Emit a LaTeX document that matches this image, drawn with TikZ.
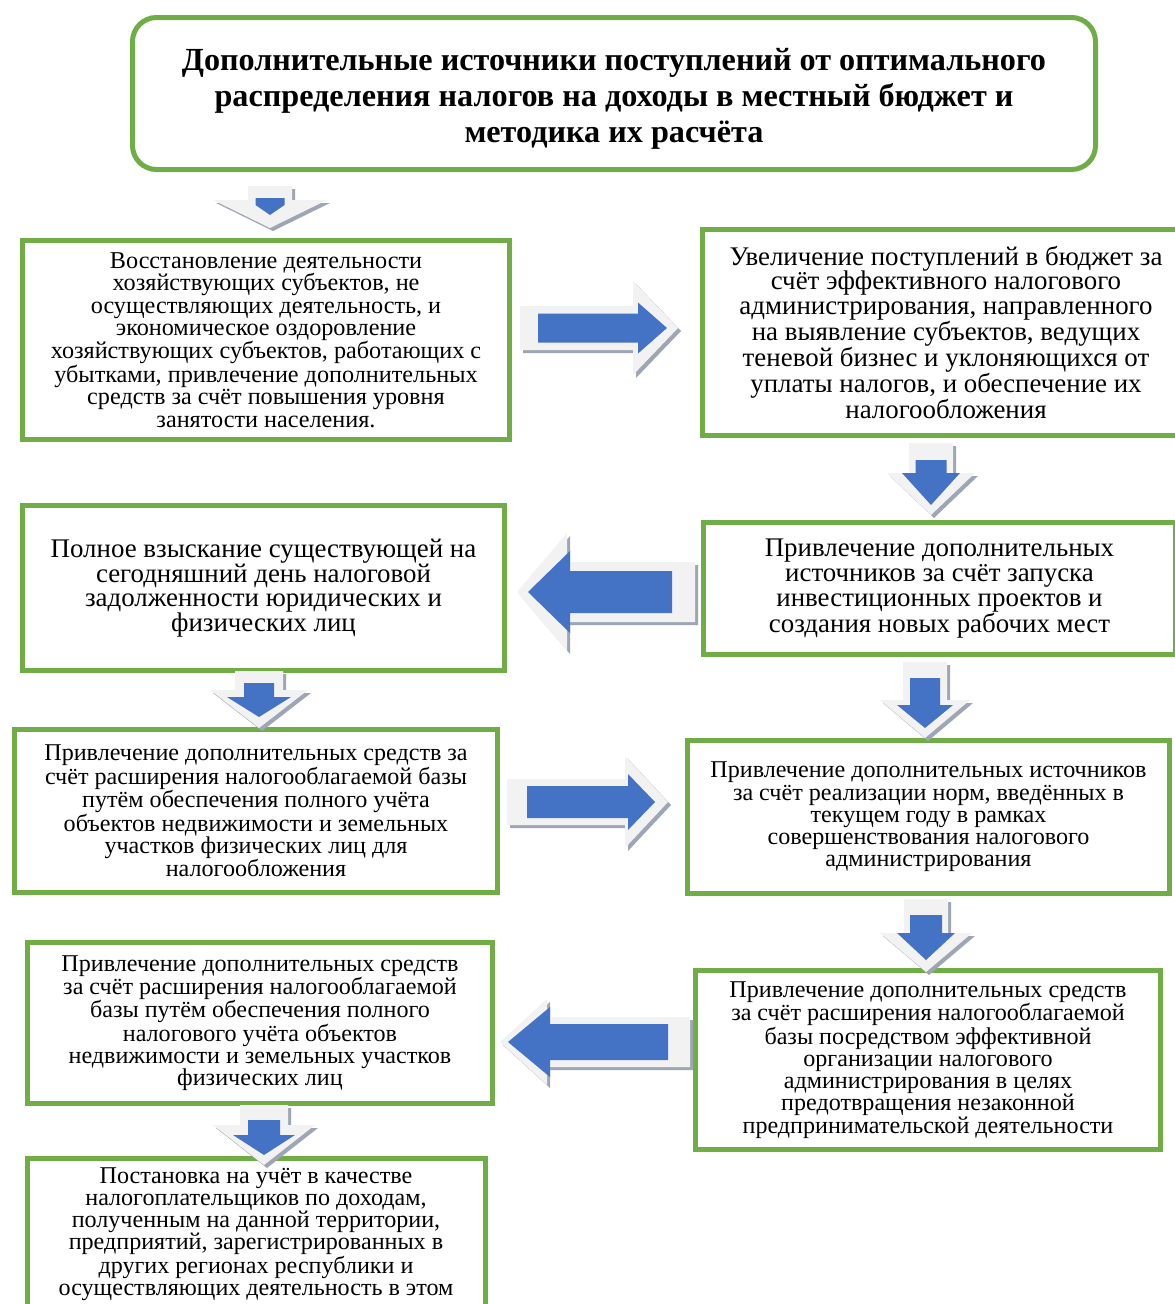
\documentclass[tikz,border=0pt]{standalone}
\usepackage{fontspec}
\setmainfont{Liberation Serif}
\definecolor{boxgreen}{HTML}{70AD47}
\definecolor{arrblue}{HTML}{4472C4}
\definecolor{arrface}{HTML}{F2F2F2}
\definecolor{arrshade}{HTML}{9EA6B6}
\newcommand\harr[7]{% style, tail, base, tip, cy, bh, hh
  \fill[#1] (#2,#5-#6) -- (#3,#5-#6) -- (#3,#5-#7) -- (#4,#5) -- (#3,#5+#7) -- (#3,#5+#6) -- (#2,#5+#6) -- cycle;}
\newcommand\varr[7]{% style, cx, tail, base, tip, bw, hw
  \fill[#1] (#2-#6,#3) -- (#2-#6,#4) -- (#2-#7,#4) -- (#2,#5) -- (#2+#7,#4) -- (#2+#6,#4) -- (#2+#6,#3) -- cycle;}
\newcommand\harrow[9]{%
  \harr{arrshade,shift={(3,3)}}{#1}{#2}{#3}{#4}{#5}{#6}
  \harr{arrface}{#1}{#2}{#3}{#4}{#5}{#6}
  \harr{arrblue}{#7}{#8}{#9}{#4}}
\newcommand\varrow[9]{%
  \varr{arrshade,shift={(3,3)}}{#1}{#2}{#3}{#4}{#5}{#6}
  \varr{arrface}{#1}{#2}{#3}{#4}{#5}{#6}
  \varr{arrblue}{#1}{#7}{#8}{#9}}
\tikzset{
  greenbox/.style={draw=boxgreen, line width=5pt, fill=white, inner sep=0pt, align=center, text=black},
  fa/.style={font=\fontsize{24.2}{22.3}\selectfont},
  fb/.style={font=\fontsize{26.9}{24.7}\selectfont},
  fc/.style={font=\fontsize{24.1}{22.2}\selectfont},
}
\begin{document}
\begin{tikzpicture}[x=1pt,y=-1pt]
\useasboundingbox (0,0) rectangle (1175,1304);
\fill[white] (0,0) rectangle (1175,1304);
% title
\node[greenbox, rounded corners=24pt, minimum width=963pt, minimum height=152pt] (title) at (614,93.5) {};
\node[align=center, inner sep=0pt, font=\fontsize{32.2}{36}\selectfont\bfseries] (titletext) at (614,99)
  {Дополнительные источники поступлений от оптимального\\
   распределения налогов на доходы в местный бюджет и\\
   методика их расчёта};
% boxes
\node[greenbox, fa, minimum width=487pt, minimum height=199pt] (b1) at (266,340)
  {Восстановление деятельности\\
   хозяйствующих субъектов, не\\
   осуществляющих деятельность, и\\
   экономическое оздоровление\\
   хозяйствующих субъектов, работающих с\\
   убытками, привлечение дополнительных\\
   средств за счёт повышения уровня\\
   занятости населения.};
\node[greenbox, fb, minimum width=487pt, minimum height=206pt] (b2) at (946,332.5)
  {Увеличение поступлений в бюджет за\\
   счёт эффективного налогового\\
   администрирования, направленного\\
   на выявление субъектов, ведущих\\
   теневой бизнес и уклоняющихся от\\
   уплаты налогов, и обеспечение их\\
   налогообложения};
\node[greenbox, fb, minimum width=482pt, minimum height=165pt] (b3) at (263.5,588)
  {Полное взыскание существующей на\\
   сегодняшний день налоговой\\
   задолженности юридических и\\
   физических лиц};
\node[greenbox, fb, minimum width=472pt, minimum height=132pt] (b4) at (939.5,588.5)
  {Привлечение дополнительных\\
   источников за счёт запуска\\
   инвестиционных проектов и\\
   создания новых рабочих мест};
\node[greenbox, fc, minimum width=483pt, minimum height=163pt] (b5) at (256,811)
  {Привлечение дополнительных средств за\\
   счёт расширения налогооблагаемой базы\\
   путём обеспечения полного учёта\\
   объектов недвижимости и земельных\\
   участков физических лиц для\\
   налогообложения};
\node[greenbox, fc, minimum width=482pt, minimum height=153pt] (b6) at (928.5,817)
  {Привлечение дополнительных источников\\
   за счёт реализации норм, введённых в\\
   текущем году в рамках\\
   совершенствования налогового\\
   администрирования};
\node[greenbox, fc, minimum width=465pt, minimum height=161pt] (b7) at (260,1023)
  {Привлечение дополнительных средств\\
   за счёт расширения налогооблагаемой\\
   базы путём обеспечения полного\\
   налогового учёта объектов\\
   недвижимости и земельных участков\\
   физических лиц};
\node[greenbox, fc, minimum width=465pt, minimum height=179pt] (b8) at (928,1060)
  {Привлечение дополнительных средств\\
   за счёт расширения налогооблагаемой\\
   базы посредством эффективной\\
   организации налогового\\
   администрирования в целях\\
   предотвращения незаконной\\
   предпринимательской деятельности};
\node[greenbox, minimum width=458pt, minimum height=220pt, anchor=north] (b9) at (256.5,1155.5) {};
\node[fc, align=center, inner sep=0pt] (t9) at (256,1234)
  {Постановка на учёт в качестве\\
   налогоплательщиков по доходам,\\
   полученным на данной территории,\\
   предприятий, зарегистрированных в\\
   других регионах республики и\\
   осуществляющих деятельность в этом};
% block arrows
\varrow{270}{186}{200}{228}{22}{57}{198}{205}{215}{14.5}{14.5}
\harrow{520}{633}{678}{328}{22}{47}{538}{638}{667}{14.5}{25.5}
\varrow{931}{443}{473}{515}{22}{44}{460}{473}{505}{15.5}{29}
\harrow{695}{567}{517}{592}{30}{59}{672}{570}{528}{21}{41}
\varrow{259}{671}{690}{728}{24}{49}{683}{697}{717}{15}{32}
\varrow{925}{662}{700}{738}{22}{45}{678}{705}{728}{15}{28}
\harrow{507}{625}{668}{802}{23}{46}{527}{628}{655}{16}{28}
\varrow{926}{899}{933}{972}{22}{46}{915}{933}{960}{16}{29}
\harrow{690}{547}{500}{1042}{25}{43}{668}{550}{508}{18}{35}
\varrow{264}{1105}{1125}{1165}{24}{51}{1120}{1135}{1155}{16}{31}
\end{tikzpicture}
\end{document}
